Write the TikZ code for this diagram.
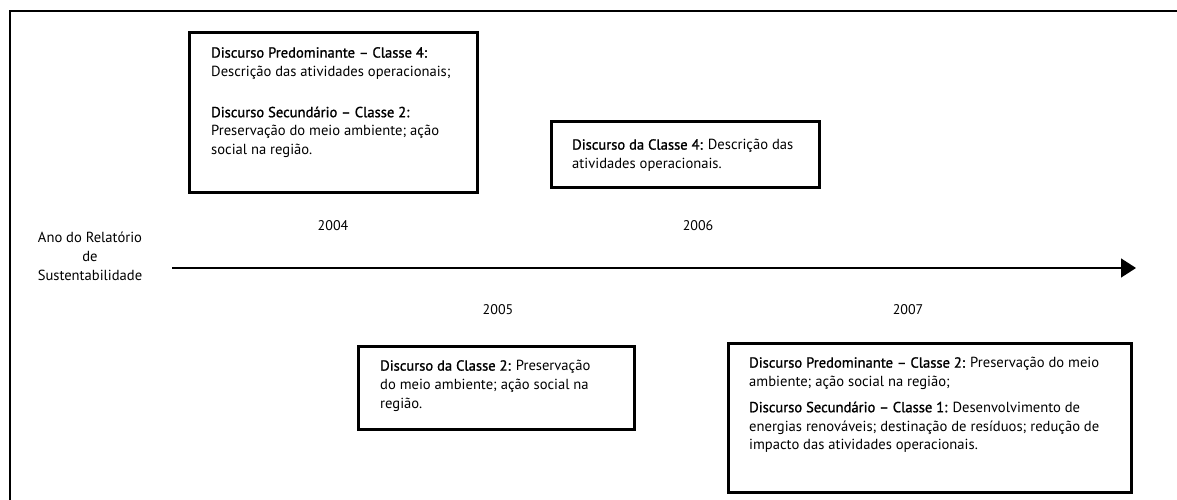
\documentclass[tikz,border=0pt]{standalone}
\usepackage{fontspec}
\setmainfont{PT Sans}[BoldFont={PT Sans},BoldFeatures={FakeBold=1.2}]
\usetikzlibrary{arrows.meta}
\tikzset{
  frame/.style={draw=black, line width=2.6pt, inner sep=0pt, anchor=north west},
  boxtext/.style={anchor=north west, align=left, inner sep=0pt, font=\fontsize{14.6}{18.8}\selectfont},
  year/.style={font=\fontsize{14}{16}\selectfont},
  axis/.style={line width=1.4pt, -{Triangle[width=19pt,length=15pt]}}
}
\begin{document}
\begin{tikzpicture}[x=1pt,y=-1pt]
\useasboundingbox (0,0) rectangle (1177,500);
% outer frame (top and left only)
\draw[line width=2.6pt] (10,500) -- (10,11) -- (1177,11);

% 2004 box
\node[frame, minimum width=288pt, minimum height=160pt] (b2004) at (188,31) {};
\node[boxtext] (t2004) at (211,47) {\textbf{Discurso Predominante – Classe 4:}\\
Descrição das atividades operacionais;\\[22pt]
\textbf{Discurso Secundário – Classe 2:}\\
Preservação do meio ambiente; ação\\
social na região.};

% 2006 box
\node[frame, minimum width=268pt, minimum height=66pt] (b2006) at (550,120) {};
\node[boxtext] (t2006) at (572,139) {\textbf{Discurso da Classe 4:} Descrição das\\
atividades operacionais.};

% 2005 box
\node[frame, minimum width=276pt, minimum height=83pt] (b2005) at (357,345) {};
\node[boxtext] (t2005) at (380,360) {\textbf{Discurso da Classe 2:} Preservação\\
do meio ambiente; ação social na\\
região.};

% 2007 box
\node[frame, minimum width=403pt, minimum height=149pt] (b2007) at (727,342) {};
\node[boxtext] (t2007) at (749,357) {\textbf{Discurso Predominante – Classe 2:} Preservação do meio\\
ambiente; ação social na região;\\[7pt]
\textbf{Discurso Secundário – Classe 1:} Desenvolvimento de\\
energias renováveis; destinação de resíduos; redução de\\
impacto das atividades operacionais.};

% years
\node[year] (y2004) at (333,226) {2004};
\node[year] (y2006) at (698,226) {2006};
\node[year] (y2005) at (498,310) {2005};
\node[year] (y2007) at (908,310) {2007};

% axis label
\node[align=center, font=\fontsize{14.6}{19}\selectfont] (lab) at (90,256) {Ano do Relatório\\de\\Sustentabilidade};

% axis
\coordinate (a0) at (172,268);
\coordinate (a1) at (1136,268);
\draw[axis] (a0) -- (a1);
\end{tikzpicture}
\end{document}
